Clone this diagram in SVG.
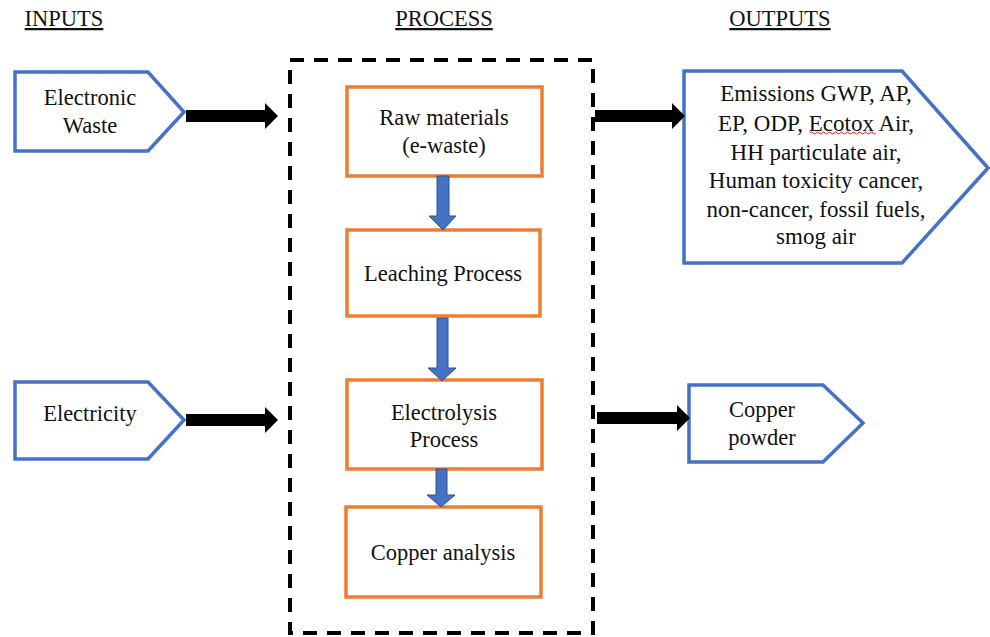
<svg xmlns="http://www.w3.org/2000/svg" width="990" height="637" viewBox="0 0 990 637">
<style>
text{font-family:"Liberation Serif","Times New Roman",serif;font-size:22.5px;fill:#111;text-anchor:middle}
.title{text-decoration:underline}
.em{font-size:23px}
.io{fill:#fff;stroke:#4472C4;stroke-width:3.5}
.pr{fill:#fff;stroke:#ED7D31;stroke-width:3.5}
.blk{fill:#000}
.blu{fill:#4472C4;stroke:#2F528F;stroke-width:1}
</style>
<rect width="990" height="637" fill="#fff"/>
<g id="titles">
<text class="title" x="64" y="26">INPUTS</text>
<text class="title" x="444" y="26">PROCESS</text>
<text class="title" x="780" y="26">OUTPUTS</text>
</g>
<g id="process-frame">
<rect x="290" y="60" width="303" height="573" fill="none" stroke="#000" stroke-width="4" stroke-dasharray="14 10"/>
</g>
<g id="electronic-waste">
<polygon class="io" points="15,72 148,72 184,112 148,151 15,151"/>
<text x="90" y="105">Electronic</text>
<text x="90" y="133">Waste</text>
</g>
<g id="electricity">
<polygon class="io" points="15,382 148,382 184,420 148,459 15,459"/>
<text x="90" y="421">Electricity</text>
</g>
<g id="raw-materials">
<rect class="pr" x="347" y="87" width="195" height="89"/>
<text x="444" y="125">Raw materials</text>
<text x="444" y="153">(e-waste)</text>
</g>
<g id="leaching">
<rect class="pr" x="347" y="230" width="193" height="86"/>
<text x="443" y="281">Leaching Process</text>
</g>
<g id="electrolysis">
<rect class="pr" x="347" y="380" width="195" height="89"/>
<text x="444" y="420">Electrolysis</text>
<text x="444" y="447">Process</text>
</g>
<g id="copper-analysis">
<rect class="pr" x="346" y="507" width="195" height="90"/>
<text x="443" y="560">Copper analysis</text>
</g>
<g id="emissions">
<polygon class="io" points="684,71 902,71 988,168 902,263 684,263"/>
<text class="em" x="816" y="101">Emissions GWP, AP,</text>
<text class="em" x="816" y="131">EP, ODP, Ecotox Air,</text>
<text class="em" x="816" y="160">HH particulate air,</text>
<text class="em" x="816" y="188">Human toxicity cancer,</text>
<text class="em" x="816" y="217">non-cancer, fossil fuels,</text>
<text class="em" x="816" y="244">smog air</text>
<path d="M810,133 q1.5,-2 3,0 t3,0 t3,0 t3,0 t3,0 t3,0 t3,0 t3,0 t3,0 t3,0 t3,0 t3,0 t3,0 t3,0 t3,0 t3,0 t3,0 t3,0 t3,0 t3,0 t3,0 t3,0" fill="none" stroke="#E02020" stroke-width="1"/>
</g>
<g id="copper-powder">
<polygon class="io" points="689,385 823,385 863,423 823,462 689,462"/>
<text x="762" y="417">Copper</text>
<text x="762" y="445">powder</text>
</g>
<g id="connectors">
<polygon class="blk" points="186,110 265,110 265,103 278,116 265,129 265,122 186,122"/>
<polygon class="blk" points="186,414 265,414 265,407 278,420 265,433 265,426 186,426"/>
<polygon class="blk" points="595,110 672,110 672,103 685,116 672,129 672,122 595,122"/>
<polygon class="blk" points="597,412 677,412 677,405 690,418 677,431 677,424 597,424"/>
<polygon class="blu" points="437,176 449,176 449,216 456,216 443,230 429,216 437,216"/>
<polygon class="blu" points="437,318 448,318 448,368 456,368 442,381 428,368 437,368"/>
<polygon class="blu" points="436,469 447,469 447,495 455,495 441,507 427,495 436,495"/>
</g>
</svg>
